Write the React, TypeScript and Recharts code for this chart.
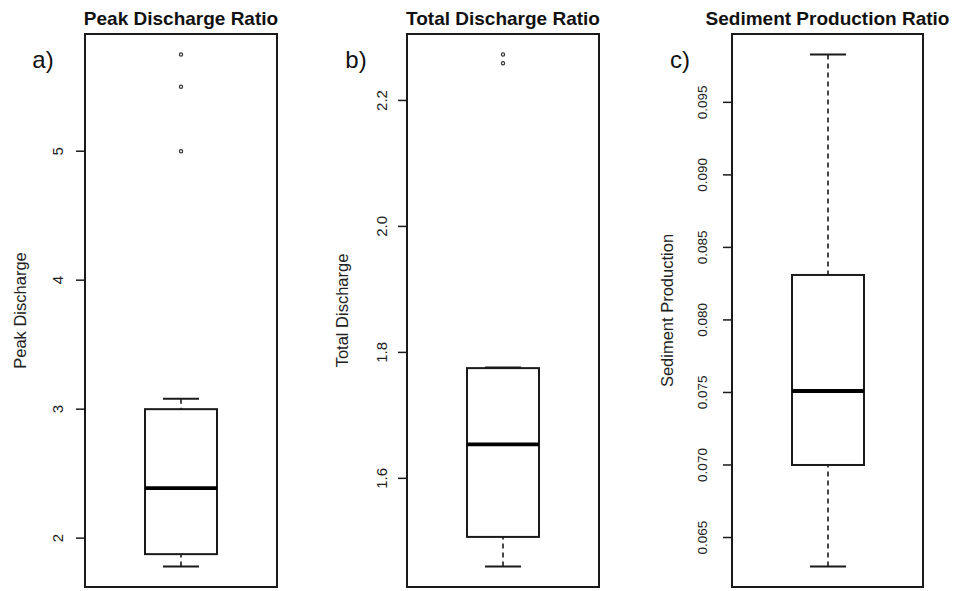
import React from "react";
import {
  ComposedChart,
  Bar,
  Scatter,
  XAxis,
  YAxis,
  ReferenceArea,
} from "recharts";

// five-number summaries: lower whisker, Q1, median, Q3, upper whisker
const peakStats = [1.78, 1.876, 2.388, 3.0, 3.08];
const peakOutliers = [5.0, 5.5, 5.75];
const peakTicks = [2, 3, 4, 5];

const totalStats = [1.46, 1.507, 1.654, 1.775, 1.776];
const totalOutliers = [2.259, 2.273];
const totalTicks = [1.6, 1.8, 2.0, 2.2];

const sedStats = [0.063, 0.07, 0.0751, 0.0831, 0.0983];
const sedOutliers: number[] = [];
const sedTicks = [0.065, 0.07, 0.075, 0.08, 0.085, 0.09, 0.095];

const titles = ["Peak Discharge Ratio", "Total Discharge Ratio", "Sediment Production Ratio"];
const tags = ["a)", "b)", "c)"];
const yLabels = ["Peak Discharge", "Total Discharge", "Sediment Production"];
const tickDigits = [0, 1, 3];

const FONT = "'Liberation Sans', Arial, Helvetica, sans-serif";
const INK = "#1a1a1a";

// layout of each panel (left edge of panel, its width, plot margins, tick label offset)
const layout = [
  { left: 0, width: 320, mLeft: 15, mRight: 43, tickOff: 18, tickFs: 15, tagOff: 42 },
  { left: 320, width: 320, mLeft: 17, mRight: 41, tickOff: 16, tickFs: 15, tagOff: 51 },
  { left: 640, width: 318, mLeft: 22, mRight: 35, tickOff: 20, tickFs: 13.5, tagOff: 52 },
];
const TOP = 34;
const BOTTOM = 4;
const HEIGHT = 591;
const AXIS_W = 70;

// R-style axis range: data range extended by 4% on each side
function rDomain(stats: number[], outliers: number[]): [number, number] {
  const all = [...stats, ...outliers];
  const lo = Math.min(...all);
  const hi = Math.max(...all);
  const pad = (hi - lo) * 0.04;
  return [lo - pad, hi + pad];
}

const BoxShape = (props: any) => {
  const { x, y, width, height, payload } = props;
  const [lo, q1, med, q3, hi] = payload.stats;
  const top = Math.min(y, y + height);
  const h = Math.abs(height);
  const toY = (v: number) => top + ((hi - v) / (hi - lo)) * h;
  const cx = x + width / 2;
  const cap = width / 4;
  return (
    <g>
      <line x1={cx} x2={cx} y1={toY(hi)} y2={toY(q3)} stroke={INK} strokeWidth={1.6} strokeDasharray="5 4" />
      <line x1={cx} x2={cx} y1={toY(lo)} y2={toY(q1)} stroke={INK} strokeWidth={1.6} strokeDasharray="5 4" />
      <line x1={cx - cap} x2={cx + cap} y1={toY(hi)} y2={toY(hi)} stroke={INK} strokeWidth={2} />
      <line x1={cx - cap} x2={cx + cap} y1={toY(lo)} y2={toY(lo)} stroke={INK} strokeWidth={2} />
      <rect x={x} y={toY(q3)} width={width} height={toY(q1) - toY(q3)} fill="#fff" stroke={INK} strokeWidth={2} />
      <line x1={x} x2={x + width} y1={toY(med)} y2={toY(med)} stroke="#000" strokeWidth={3.8} />
    </g>
  );
};

const Outlier = (props: any) => {
  const { cx, cy } = props;
  return <circle cx={cx} cy={cy} r={1.6} fill="none" stroke="#333" strokeWidth={1.2} />;
};

function Panel({ idx, stats, outliers, ticks }: { idx: number; stats: number[]; outliers: number[]; ticks: number[] }) {
  const L = layout[idx];
  const name = tags[idx];
  const data = [{ name, range: [stats[0], stats[4]], stats }];
  const outData = outliers.map((v) => ({ name, value: v }));
  const domain = rDomain(stats, outliers);
  const plotLeft = L.mLeft + AXIS_W;
  const plotW = L.width - plotLeft - L.mRight;

  const Tick = (p: any) => {
    const tx = p.x - L.tickOff;
    return (
      <g>
        <text
          x={tx}
          y={p.y}
          transform={`rotate(-90, ${tx}, ${p.y})`}
          textAnchor="middle"
          dominantBaseline="central"
          fontSize={L.tickFs}
          fontFamily={FONT}
          fill="#222"
        >
          {Number(p.payload.value).toFixed(tickDigits[idx])}
        </text>
      </g>
    );
  };

  return (
    <div style={{ position: "absolute", left: L.left, top: 0, width: L.width, height: HEIGHT }}>
      <div
        style={{
          position: "absolute",
          left: plotLeft - 60,
          width: plotW + 120,
          top: 9,
          lineHeight: "19px",
          textAlign: "center",
          fontFamily: FONT,
          fontWeight: "bold",
          fontSize: 19,
          color: "#111",
          whiteSpace: "nowrap",
        }}
      >
        {titles[idx]}
      </div>
      <div
        style={{
          position: "absolute",
          left: plotLeft - L.tagOff - 20,
          width: 40,
          top: 48,
          lineHeight: "24px",
          textAlign: "center",
          fontFamily: FONT,
          fontSize: 24,
          color: "#111",
        }}
      >
        {tags[idx]}
      </div>
      <ComposedChart
        width={L.width}
        height={HEIGHT}
        data={data}
        margin={{ top: TOP, right: L.mRight, bottom: BOTTOM, left: L.mLeft }}
        style={{ position: "absolute", left: 0, top: 0 }}
      >
        <XAxis dataKey="name" type="category" hide allowDuplicatedCategory={false} />
        <YAxis
          type="number"
          domain={domain}
          ticks={ticks}
          interval={0}
          allowDataOverflow
          width={AXIS_W}
          axisLine={false}
          tickSize={9}
          tickMargin={0}
          tickLine={{ stroke: INK, strokeWidth: 1.5 }}
          tick={<Tick />}
          label={{
            content: (lp: any) => {
              const vb = lp.viewBox || {};
              const lx = (vb.x ?? 0) + (vb.width ?? AXIS_W) - 65;
              const ly = (vb.y ?? TOP) + (vb.height ?? 0) / 2;
              return (
                <text
                  x={lx}
                  y={ly}
                  transform={`rotate(-90, ${lx}, ${ly})`}
                  textAnchor="middle"
                  dominantBaseline="central"
                  fontSize={16.5}
                  fontFamily={FONT}
                  fill="#222"
                >
                  {yLabels[idx]}
                </text>
              );
            },
          }}
        />
        <ReferenceArea
          y1={domain[0]}
          y2={domain[1]}
          ifOverflow="visible"
          fill="none"
          fillOpacity={0}
          stroke={INK}
          strokeWidth={2}
        />
        <Bar dataKey="range" barSize={72} shape={<BoxShape />} isAnimationActive={false} />
        {outData.length > 0 && (
          <Scatter data={outData} dataKey="value" shape={<Outlier />} isAnimationActive={false} />
        )}
      </ComposedChart>
    </div>
  );
}

export default function App() {
  return (
    <div style={{ position: "absolute", left: 0, top: 0, width: 958, height: 591, background: "#fff" }}>
      <Panel idx={0} stats={peakStats} outliers={peakOutliers} ticks={peakTicks} />
      <Panel idx={1} stats={totalStats} outliers={totalOutliers} ticks={totalTicks} />
      <Panel idx={2} stats={sedStats} outliers={sedOutliers} ticks={sedTicks} />
    </div>
  );
}
